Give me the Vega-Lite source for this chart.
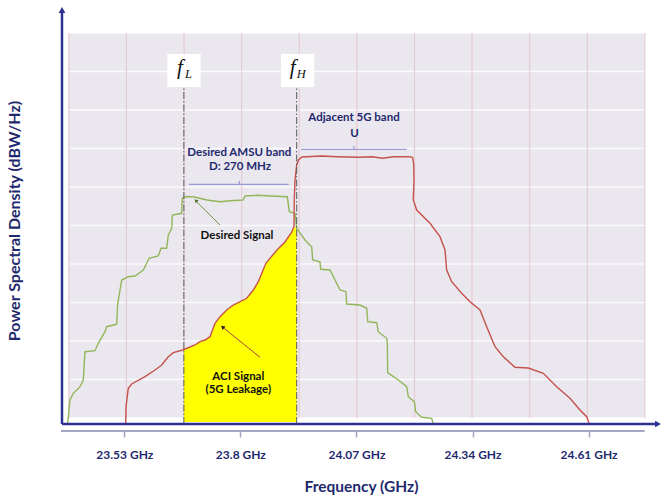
{
  "$schema": "https://vega.github.io/schema/vega-lite/v6.json",
  "width": 598,
  "height": 419,
  "autosize": {"type": "none"},
  "padding": {"left": 62, "top": 5, "right": 3, "bottom": 74},
  "background": "white",
  "config": {"view": {"stroke": null}},
  "datasets": {
    "bg": [{"f": 23.4007, "f2": 24.7405, "v": 6, "v2": 391}],
    "gridx": [{"f": 23.401, "v": 6, "v2": 391}, {"f": 23.535, "v": 6, "v2": 391}, {"f": 23.669, "v": 6, "v2": 391}, {"f": 23.803, "v": 6, "v2": 391}, {"f": 23.937, "v": 6, "v2": 391}, {"f": 24.071, "v": 6, "v2": 391}, {"f": 24.205, "v": 6, "v2": 391}, {"f": 24.339, "v": 6, "v2": 391}, {"f": 24.473, "v": 6, "v2": 391}, {"f": 24.607, "v": 6, "v2": 391}, {"f": 24.741, "v": 6, "v2": 391}],
    "gridy": [{"v": 391, "f": 23.4007, "f2": 24.7405}, {"v": 352.5, "f": 23.4007, "f2": 24.7405}, {"v": 314, "f": 23.4007, "f2": 24.7405}, {"v": 275.5, "f": 23.4007, "f2": 24.7405}, {"v": 237, "f": 23.4007, "f2": 24.7405}, {"v": 198.5, "f": 23.4007, "f2": 24.7405}, {"v": 160, "f": 23.4007, "f2": 24.7405}, {"v": 121.5, "f": 23.4007, "f2": 24.7405}, {"v": 83, "f": 23.4007, "f2": 24.7405}, {"v": 44.5, "f": 23.4007, "f2": 24.7405}, {"v": 6, "f": 23.4007, "f2": 24.7405}],
    "aci": [
      {"f": 23.6686, "v": 74.5}, {"f": 23.6945, "v": 79}, {"f": 23.7061, "v": 82.3}, {"f": 23.7177, "v": 84},
      {"f": 23.7294, "v": 87.3}, {"f": 23.741, "v": 100.7}, {"f": 23.7526, "v": 107.3}, {"f": 23.7682, "v": 114},
      {"f": 23.7835, "v": 119}, {"f": 23.8147, "v": 125.7}, {"f": 23.8301, "v": 134}, {"f": 23.8417, "v": 142.3},
      {"f": 23.8596, "v": 161}, {"f": 23.8852, "v": 174}, {"f": 23.9038, "v": 182}, {"f": 23.9196, "v": 192},
      {"f": 23.9247, "v": 197.3}, {"f": 23.931, "v": 196}
    ],
    "green": [
      {"i": 1, "f": 23.3983, "v": 0.7}, {"i": 2, "f": 23.4037, "v": 24}, {"i": 3, "f": 23.4114, "v": 30.7}, {"i": 4, "f": 23.427, "v": 37.3},
      {"i": 5, "f": 23.4346, "v": 44}, {"i": 6, "f": 23.4386, "v": 72.3}, {"i": 7, "f": 23.4618, "v": 73.3}, {"i": 8, "f": 23.4695, "v": 80.7},
      {"i": 9, "f": 23.4851, "v": 92.3}, {"i": 10, "f": 23.4891, "v": 97.3}, {"i": 11, "f": 23.5123, "v": 99.7}, {"i": 12, "f": 23.5146, "v": 120},
      {"i": 13, "f": 23.524, "v": 144}, {"i": 14, "f": 23.5393, "v": 147.3}, {"i": 15, "f": 23.5549, "v": 148}, {"i": 16, "f": 23.5742, "v": 154},
      {"i": 17, "f": 23.5858, "v": 164}, {"i": 18, "f": 23.5875, "v": 165.7}, {"i": 19, "f": 23.6091, "v": 168}, {"i": 20, "f": 23.6154, "v": 175.7},
      {"i": 21, "f": 23.6286, "v": 175.7}, {"i": 22, "f": 23.6324, "v": 189}, {"i": 23, "f": 23.6403, "v": 195.7}, {"i": 24, "f": 23.6417, "v": 209},
      {"i": 25, "f": 23.6635, "v": 210.7}, {"i": 26, "f": 23.6649, "v": 225.7}, {"i": 27, "f": 23.6752, "v": 227.5}, {"i": 28, "f": 23.6933, "v": 227},
      {"i": 29, "f": 23.7224, "v": 224}, {"i": 30, "f": 23.7526, "v": 222.3}, {"i": 31, "f": 23.7768, "v": 223.3}, {"i": 32, "f": 23.8061, "v": 224},
      {"i": 33, "f": 23.8112, "v": 228}, {"i": 34, "f": 23.841, "v": 228.7}, {"i": 35, "f": 23.8703, "v": 228}, {"i": 36, "f": 23.9092, "v": 227.3},
      {"i": 37, "f": 23.9138, "v": 212.3}, {"i": 38, "f": 23.9271, "v": 210.7}, {"i": 39, "f": 23.931, "v": 195.7}, {"i": 40, "f": 23.9503, "v": 184},
      {"i": 41, "f": 23.9659, "v": 177.3}, {"i": 42, "f": 23.9682, "v": 164}, {"i": 43, "f": 23.9852, "v": 162.3}, {"i": 44, "f": 23.9869, "v": 154.7},
      {"i": 45, "f": 24.0085, "v": 154}, {"i": 46, "f": 24.0201, "v": 144}, {"i": 47, "f": 24.0317, "v": 134}, {"i": 48, "f": 24.0457, "v": 132.3},
      {"i": 49, "f": 24.0473, "v": 120}, {"i": 50, "f": 24.0783, "v": 119}, {"i": 51, "f": 24.0939, "v": 115.7}, {"i": 52, "f": 24.0962, "v": 102.3},
      {"i": 53, "f": 24.1171, "v": 101.3}, {"i": 54, "f": 24.1208, "v": 92.3}, {"i": 55, "f": 24.1404, "v": 85.7}, {"i": 56, "f": 24.1418, "v": 80.7},
      {"i": 57, "f": 24.1427, "v": 51.3}, {"i": 58, "f": 24.1674, "v": 44}, {"i": 59, "f": 24.1869, "v": 37.3}, {"i": 60, "f": 24.1906, "v": 27.3},
      {"i": 61, "f": 24.2046, "v": 22.3}, {"i": 62, "f": 24.2078, "v": 12.3}, {"i": 63, "f": 24.2218, "v": 6.7}, {"i": 64, "f": 24.245, "v": 5.7},
      {"i": 65, "f": 24.2488, "v": 0}
    ],
    "red": [
      {"i": 1, "f": 23.5333, "v": 0}, {"i": 2, "f": 23.534, "v": 17.3}, {"i": 3, "f": 23.5393, "v": 35.7}, {"i": 4, "f": 23.5472, "v": 40},
      {"i": 5, "f": 23.5782, "v": 47.3}, {"i": 6, "f": 23.6014, "v": 54}, {"i": 7, "f": 23.617, "v": 59}, {"i": 8, "f": 23.6323, "v": 67.3},
      {"i": 9, "f": 23.644, "v": 71.3}, {"i": 10, "f": 23.6658, "v": 74}, {"i": 11, "f": 23.6945, "v": 79}, {"i": 12, "f": 23.7061, "v": 82.3},
      {"i": 13, "f": 23.7177, "v": 84}, {"i": 14, "f": 23.7294, "v": 87.3}, {"i": 15, "f": 23.741, "v": 100.7}, {"i": 16, "f": 23.7526, "v": 107.3},
      {"i": 17, "f": 23.7682, "v": 114}, {"i": 18, "f": 23.7835, "v": 119}, {"i": 19, "f": 23.8147, "v": 125.7}, {"i": 20, "f": 23.8301, "v": 134},
      {"i": 21, "f": 23.8417, "v": 142.3}, {"i": 22, "f": 23.8596, "v": 161}, {"i": 23, "f": 23.8852, "v": 174}, {"i": 24, "f": 23.9038, "v": 182},
      {"i": 25, "f": 23.9196, "v": 192}, {"i": 26, "f": 23.9247, "v": 197.3}, {"i": 27, "f": 23.9254, "v": 224}, {"i": 28, "f": 23.9271, "v": 244},
      {"i": 29, "f": 23.931, "v": 259}, {"i": 30, "f": 23.9352, "v": 264}, {"i": 31, "f": 23.9433, "v": 267}, {"i": 32, "f": 23.9875, "v": 268},
      {"i": 33, "f": 24.0271, "v": 267.3}, {"i": 34, "f": 24.0759, "v": 266.7}, {"i": 35, "f": 24.1062, "v": 267.3}, {"i": 36, "f": 24.1311, "v": 265.7},
      {"i": 37, "f": 24.155, "v": 267.3}, {"i": 38, "f": 24.1946, "v": 267.3}, {"i": 39, "f": 24.2008, "v": 266.5}, {"i": 40, "f": 24.2034, "v": 259},
      {"i": 41, "f": 24.2039, "v": 244}, {"i": 42, "f": 24.2022, "v": 224}, {"i": 43, "f": 24.2102, "v": 214}, {"i": 44, "f": 24.2411, "v": 200.7},
      {"i": 45, "f": 24.2643, "v": 187.3}, {"i": 46, "f": 24.276, "v": 174}, {"i": 47, "f": 24.2799, "v": 154}, {"i": 48, "f": 24.2916, "v": 142.3},
      {"i": 49, "f": 24.3148, "v": 130.7}, {"i": 50, "f": 24.3341, "v": 122.3}, {"i": 51, "f": 24.3574, "v": 114}, {"i": 52, "f": 24.373, "v": 97.3},
      {"i": 53, "f": 24.3923, "v": 77.3}, {"i": 54, "f": 24.4116, "v": 67.3}, {"i": 55, "f": 24.4388, "v": 56.7}, {"i": 56, "f": 24.4697, "v": 56},
      {"i": 57, "f": 24.5046, "v": 50.7}, {"i": 58, "f": 24.5358, "v": 37.3}, {"i": 59, "f": 24.5667, "v": 25.7}, {"i": 60, "f": 24.59, "v": 14},
      {"i": 61, "f": 24.6056, "v": 7.3}, {"i": 62, "f": 24.6116, "v": 0}
    ],
    "edges": [{"f": 23.6686, "v": 0, "v2": 337}, {"f": 23.931, "v": 0, "v2": 337}],
    "boxes": [{"f": 23.63, "f2": 23.7077, "v": 337, "v2": 370}, {"f": 23.8945, "f2": 23.972, "v": 337, "v2": 370}],
    "flab": [{"f": 23.6686, "v": 350, "vs": 345.7, "main": "f", "sub": "L"}, {"f": 23.931, "v": 350, "vs": 345.7, "main": "f", "sub": "H"}],
    "brackets": [
      {"f": 23.6805, "f2": 23.9126, "v": 239.7, "v2": 239.7},
      {"f": 23.7975, "f2": 23.7975, "v": 239.7, "v2": 243},
      {"f": 23.941, "f2": 24.1871, "v": 274.7, "v2": 274.7},
      {"f": 24.0643, "f2": 24.0643, "v": 274.7, "v2": 278}
    ],
    "navytext": [
      {"f": 23.7975, "v": 271.5, "t": "Desired AMSU band"},
      {"f": 23.7991, "v": 257, "t": "D: 270 MHz"},
      {"f": 24.0643, "v": 305.7, "t": "Adjacent 5G band"},
      {"f": 24.0655, "v": 290.5, "t": "U"}
    ],
    "blacktext": [
      {"f": 23.7922, "v": 188, "t": "Desired Signal"},
      {"f": 23.7952, "v": 47.3, "t": "ACI Signal"},
      {"f": 23.7952, "v": 34, "t": "(5G Leakage)"}
    ],
    "arrowG": [{"f": 23.7526, "f2": 23.6975, "v": 199, "v2": 222.5}],
    "headG": [{"f": 23.6965, "v": 223.5}],
    "arrowR": [{"f": 23.8457, "f2": 23.7596, "v": 66.7, "v2": 96.5}],
    "headR": [{"f": 23.7586, "v": 97}],
    "axisx": [{"f": 23.3851, "f2": 24.7691, "v": 0, "v2": 0}],
    "axisy": [{"f": 23.3851, "f2": 23.3851, "v": 0, "v2": 412}],
    "tickline": [{"f": 23.3828, "f2": 24.7405, "v": -7, "v2": -7}],
    "headX": [{"f": 24.7714, "v": 0}],
    "headY": [{"f": 23.3851, "v": 414}]
  },
  "encoding": {
    "x": {
      "field": "f", "type": "quantitative",
      "scale": {"domain": [23.3851, 24.7761], "zero": false, "nice": false},
      "axis": {
        "values": [23.53, 23.8, 24.07, 24.34, 24.61],
        "labelExpr": "datum.value + ' GHz'",
        "domain": false, "grid": false, "offset": 7,
        "tickColor": "#a3a7c6", "tickSize": 6, "tickWidth": 1.5,
        "labelFont": "Lato", "labelFontWeight": "bold", "labelFontSize": 12, "labelColor": "#1f2a6e", "labelPadding": 12,
        "title": "Frequency (GHz)", "titleFont": "Lato", "titleFontSize": 15.5, "titleFontWeight": "bold", "titleColor": "#1f2a6e",
        "titleY": 55, "titleBaseline": "middle"
      }
    },
    "y": {
      "field": "v", "type": "quantitative",
      "scale": {"domain": [0, 419], "zero": false, "nice": false},
      "axis": {
        "domain": false, "ticks": false, "labels": false, "grid": false,
        "title": "Power Spectral Density (dBW/Hz)", "titleFont": "Lato", "titleFontSize": 16, "titleFontWeight": "bold", "titleColor": "#1f2a6e",
        "titleX": -48, "titleY": 215.5, "titleAngle": -90, "titleBaseline": "middle", "titleAlign": "center"
      }
    }
  },
  "layer": [
    {"data": {"name": "bg"}, "mark": {"type": "rect", "fill": "#ebe7ef"}, "encoding": {"x2": {"field": "f2"}, "y2": {"field": "v2"}}},
    {"data": {"name": "gridy"}, "mark": {"type": "rule", "color": "#ffffff", "strokeWidth": 1.5, "opacity": 0.8}, "encoding": {"x2": {"field": "f2"}}},
    {"data": {"name": "gridx"}, "mark": {"type": "rule", "color": "#e6cbd2", "strokeWidth": 1.2}, "encoding": {"y2": {"field": "v2"}}},
    {"data": {"name": "aci"}, "mark": {"type": "area", "color": "#ffff00", "opacity": 1}, "encoding": {"y2": {"datum": 2}}},
    {"data": {"name": "green"}, "mark": {"type": "line", "color": "#92b65a", "strokeWidth": 1.4}, "encoding": {"order": {"field": "i", "type": "quantitative"}}},
    {"data": {"name": "red"}, "mark": {"type": "line", "color": "#c5524c", "strokeWidth": 1.4}, "encoding": {"order": {"field": "i", "type": "quantitative"}}},
    {"data": {"name": "edges"}, "mark": {"type": "rule", "color": "#5a5a5a", "strokeWidth": 1, "strokeDash": [7, 2, 1.5, 2]}, "encoding": {"y2": {"field": "v2"}}},
    {"data": {"name": "boxes"}, "mark": {"type": "rect", "fill": "white"}, "encoding": {"x2": {"field": "f2"}, "y2": {"field": "v2"}}},
    {"data": {"name": "flab"}, "mark": {"type": "text", "font": "Liberation Serif", "fontStyle": "italic", "fontSize": 21, "color": "#111111", "align": "center", "baseline": "alphabetic", "dx": -4}, "encoding": {"text": {"field": "main"}}},
    {"data": {"name": "flab"}, "mark": {"type": "text", "font": "Liberation Serif", "fontStyle": "italic", "fontSize": 12.5, "color": "#111111", "align": "center", "baseline": "alphabetic", "dx": 4.5}, "encoding": {"text": {"field": "sub"}, "y": {"field": "vs", "type": "quantitative"}}},
    {"data": {"name": "brackets"}, "mark": {"type": "rule", "color": "#8589cc", "strokeWidth": 1}, "encoding": {"x2": {"field": "f2"}, "y2": {"field": "v2"}}},
    {"data": {"name": "navytext"}, "mark": {"type": "text", "font": "Lato", "fontWeight": "bold", "fontSize": 11.5, "color": "#1f2a6e", "align": "center", "baseline": "middle"}, "encoding": {"text": {"field": "t"}}},
    {"data": {"name": "blacktext"}, "mark": {"type": "text", "font": "Lato", "fontWeight": "bold", "fontSize": 11.5, "color": "#111111", "align": "center", "baseline": "middle"}, "encoding": {"text": {"field": "t"}}},
    {"data": {"name": "arrowG"}, "mark": {"type": "rule", "color": "#6f9a45", "strokeWidth": 1}, "encoding": {"x2": {"field": "f2"}, "y2": {"field": "v2"}}},
    {"data": {"name": "headG"}, "mark": {"type": "point", "shape": "triangle-up", "angle": 317, "size": 18, "filled": true, "color": "#4f6e2c", "opacity": 1}},
    {"data": {"name": "arrowR"}, "mark": {"type": "rule", "color": "#a4433d", "strokeWidth": 1}, "encoding": {"x2": {"field": "f2"}, "y2": {"field": "v2"}}},
    {"data": {"name": "headR"}, "mark": {"type": "point", "shape": "triangle-up", "angle": 310, "size": 20, "filled": true, "color": "#2a1a1a", "opacity": 1}},
    {"data": {"name": "tickline"}, "mark": {"type": "rule", "color": "#a3a7c6", "strokeWidth": 2}, "encoding": {"x2": {"field": "f2"}, "y2": {"field": "v2"}}},
    {"data": {"name": "axisx"}, "mark": {"type": "rule", "color": "#2e3192", "strokeWidth": 2.5}, "encoding": {"x2": {"field": "f2"}, "y2": {"field": "v2"}}},
    {"data": {"name": "axisy"}, "mark": {"type": "rule", "color": "#2e3192", "strokeWidth": 2.5}, "encoding": {"x2": {"field": "f2"}, "y2": {"field": "v2"}}},
    {"data": {"name": "headX"}, "mark": {"type": "point", "shape": "triangle-right", "size": 45, "filled": true, "color": "#2e3192", "opacity": 1}},
    {"data": {"name": "headY"}, "mark": {"type": "point", "shape": "triangle-up", "size": 45, "filled": true, "color": "#2e3192", "opacity": 1}}
  ]
}
